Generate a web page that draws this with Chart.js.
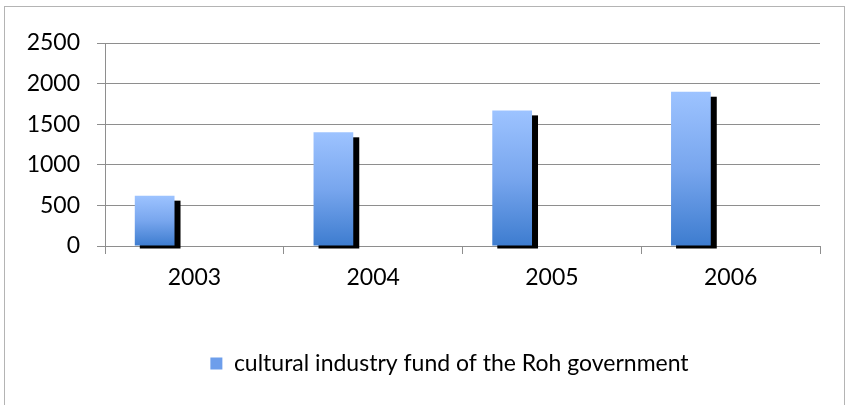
<!DOCTYPE html>
<html>
<head>
<meta charset="utf-8">
<script src="https://cdn.jsdelivr.net/npm/chart.js@4"></script>
<style>
  html, body { margin: 0; padding: 0; background: #fff; }
  #wrap { width: 846px; height: 405px; }
</style>
</head>
<body>
<div id="wrap"><canvas id="fundChart"></canvas></div>
<script>
// datos del gráfico
const years = ['2003', '2004', '2005', '2006'];
const fundValues = [620, 1400, 1670, 1900];
const seriesName = 'cultural industry fund of the Roh government';
const yMax = 2500;
const yStep = 500;

const gridGray = '#8e8e8e';
const fontTxt = { family: 'Lato', size: 23 };

// degradado por barra (claro arriba, oscuro abajo)
function barGradient(context) {
  const chart = context.chart;
  if (!chart.chartArea || context.type !== 'data') return '#6d9eeb';
  const y = chart.scales.y;
  const top = y.getPixelForValue(context.raw);
  const base = y.getPixelForValue(0);
  const g = chart.ctx.createLinearGradient(0, top, 0, base);
  g.addColorStop(0, '#9dc3ff');
  g.addColorStop(0.5, '#78a6ee');
  g.addColorStop(1, '#3d7ccf');
  return g;
}

// sombra negra detrás de las barras, como en Excel
const barShadow = {
  id: 'barShadow',
  beforeDatasetDraw(chart, args) {
    if (args.index !== 0) return;
    const ctx = chart.ctx;
    ctx.save();
    ctx.fillStyle = '#000';
    args.meta.data.forEach(bar => {
      const p = bar.getProps(['x', 'y', 'base', 'width'], true);
      const left = p.x - p.width / 2;
      ctx.fillRect(left + 5, p.y + 5, p.width + 1, p.base + 3 - (p.y + 5));
    });
    ctx.restore();
  }
};

// la leyenda va un poco a la derecha, centrada bajo el área del gráfico
const legendShift = {
  id: 'legendShift',
  afterLayout(chart) {
    chart.legend.left += 27;
    chart.legend.right += 27;
  }
};

const chartBorder = {
  id: 'chartBorder',
  afterDraw(chart) {
    const ctx = chart.ctx;
    ctx.save();
    ctx.strokeStyle = '#b4b4b4';
    ctx.lineWidth = 1;
    ctx.strokeRect(4.5, 6.5, chart.width - 6, chart.height + 20);
    ctx.restore();
  }
};

new Chart(document.getElementById('fundChart').getContext('2d'), {
  type: 'bar',
  data: {
    labels: years,
    datasets: [
      { label: seriesName, data: fundValues, backgroundColor: barGradient },
      { label: '', data: [] },
      { label: '', data: [] }
    ]
  },
  options: {
    responsive: true,
    maintainAspectRatio: false,
    animation: false,
    datasets: { bar: { categoryPercentage: 2 / 3, barPercentage: 1 } },
    layout: { padding: { left: 25, right: 26, top: 43, bottom: 20 } },
    plugins: {
      tooltip: { enabled: false },
      legend: {
        position: 'bottom',
        labels: {
          color: '#000',
          font: fontTxt,
          boxWidth: 12,
          boxHeight: 12,
          padding: 16,
          generateLabels: chart => [{
            text: seriesName,
            fillStyle: '#6d9eeb',
            strokeStyle: '#6d9eeb',
            lineWidth: 0,
            datasetIndex: 0
          }]
        }
      }
    },
    scales: {
      x: {
        afterFit: s => { s.height = 90; },
        grid: { offset: true, drawOnChartArea: false, color: gridGray, tickLength: 8 },
        border: { color: gridGray },
        ticks: { color: '#000', font: fontTxt, padding: 10 }
      },
      y: {
        min: 0,
        max: yMax,
        afterFit: s => { s.width = 80; },
        grid: { color: gridGray, tickLength: 8 },
        border: { color: gridGray },
        ticks: {
          stepSize: yStep,
          color: '#000',
          font: fontTxt,
          padding: 17,
          callback: v => String(v)
        }
      }
    }
  },
  plugins: [barShadow, legendShift, chartBorder]
});
</script>
</body>
</html>
